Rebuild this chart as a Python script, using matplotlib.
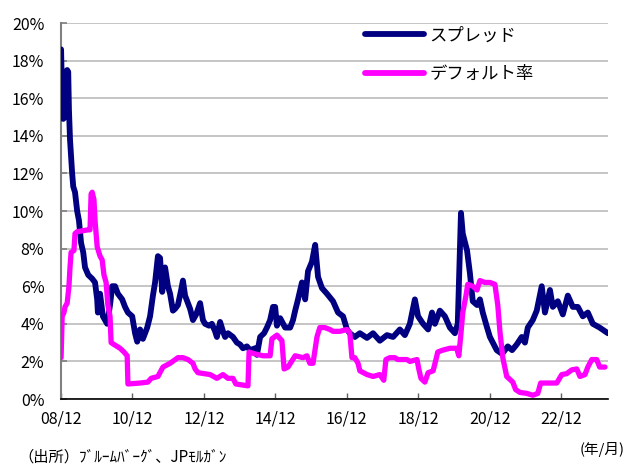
import matplotlib
matplotlib.use("Agg")
import matplotlib.pyplot as plt
from matplotlib.ticker import FixedLocator, FuncFormatter

plt.rcParams['font.family'] = ['Noto Sans CJK JP', 'DejaVu Sans']

# スプレッド (decimal year, %)
spread_t = [2008.92, 2008.95, 2008.98, 2009.03, 2009.06, 2009.09, 2009.12, 2009.14, 2009.17, 2009.23,
            2009.26, 2009.31, 2009.37, 2009.42, 2009.48, 2009.54, 2009.59, 2009.68, 2009.79, 2009.87,
            2009.93, 2009.95, 2010.01, 2010.09, 2010.21, 2010.29, 2010.35, 2010.43, 2010.51, 2010.63,
            2010.71, 2010.79, 2010.91, 2010.99, 2011.05, 2011.13, 2011.21, 2011.33, 2011.41, 2011.49,
            2011.55, 2011.63, 2011.69, 2011.75, 2011.83, 2011.91, 2011.97, 2012.05, 2012.11, 2012.19,
            2012.28, 2012.33, 2012.39, 2012.47, 2012.53, 2012.61, 2012.70, 2012.81, 2012.89, 2012.95,
            2013.06, 2013.14, 2013.23, 2013.28, 2013.37, 2013.45, 2013.51, 2013.59, 2013.73, 2013.84,
            2013.93, 2014.01, 2014.12, 2014.21, 2014.35, 2014.40, 2014.49, 2014.60, 2014.68, 2014.77,
            2014.85, 2014.91, 2014.96, 2015.05, 2015.19, 2015.33, 2015.41, 2015.47, 2015.55, 2015.66,
            2015.75, 2015.83, 2015.94, 2016.03, 2016.11, 2016.22, 2016.36, 2016.53, 2016.67, 2016.81,
            2016.92, 2017.00, 2017.14, 2017.28, 2017.48, 2017.65, 2017.84, 2018.04, 2018.21, 2018.40,
            2018.54, 2018.68, 2018.82, 2018.91, 2019.05, 2019.19, 2019.30, 2019.38, 2019.52, 2019.66,
            2019.80, 2019.94, 2020.02, 2020.11, 2020.16, 2020.28, 2020.36, 2020.44, 2020.56, 2020.64,
            2020.72, 2020.84, 2020.92, 2021.00, 2021.11, 2021.26, 2021.34, 2021.42, 2021.54, 2021.67,
            2021.81, 2021.90, 2021.98, 2022.12, 2022.23, 2022.37, 2022.46, 2022.60, 2022.68, 2022.82,
            2022.96, 2023.10, 2023.24, 2023.38, 2023.52, 2023.66, 2023.80, 2023.99, 2024.14, 2024.22]
spread_v = [18.6, 15.9, 14.9, 15.0, 16.0, 17.5, 17.4, 15.4, 13.8, 12.0,
            11.3, 11.0, 10.0, 9.5, 8.3, 7.8, 7.0, 6.6, 6.4, 6.2,
            5.3, 4.6, 5.6, 4.4, 4.0, 5.0, 6.0, 6.0, 5.6, 5.3,
            4.9, 4.6, 4.4, 3.5, 3.05, 3.7, 3.2, 3.8, 4.4, 5.5,
            6.2, 7.6, 7.5, 5.7, 7.0, 6.0, 5.6, 4.7, 4.8, 5.0,
            5.8, 6.3, 5.5, 5.1, 4.8, 4.2, 4.5, 5.1, 4.2, 4.0,
            3.9, 4.0, 3.6, 3.3, 4.1, 3.6, 3.3, 3.5, 3.3, 3.0,
            2.9, 2.7, 2.8, 2.6, 2.7, 2.35, 3.3, 3.5, 3.8, 4.2,
            4.9, 4.9, 3.9, 4.3, 3.8, 3.8, 4.2, 4.7, 5.3, 6.2,
            5.3, 6.8, 7.3, 8.2, 6.5, 5.9, 5.6, 5.2, 4.6, 4.4,
            3.7, 3.5, 3.3, 3.5, 3.25, 3.5, 3.1, 3.4, 3.3, 3.7,
            3.4, 4.0, 5.3, 4.4, 4.0, 3.7, 4.6, 4.0, 4.7, 4.4,
            3.8, 3.5, 4.0, 9.9, 8.8, 7.9, 6.7, 5.2, 5.0, 5.3,
            4.6, 3.8, 3.3, 3.0, 2.6, 2.4, 2.6, 2.8, 2.6, 2.9,
            3.3, 3.0, 3.8, 4.2, 4.7, 6.0, 4.6, 5.8, 4.9, 5.2,
            4.5, 5.5, 4.9, 4.9, 4.4, 4.6, 4.0, 3.8, 3.6, 3.5]

# デフォルト率 (decimal year, %)
default_t = [2008.92, 2008.95, 2009.00, 2009.03, 2009.09, 2009.14, 2009.17, 2009.20, 2009.28, 2009.31,
             2009.37, 2009.68, 2009.73, 2009.76, 2009.79, 2009.84, 2009.87, 2009.93, 2010.01, 2010.07,
             2010.12, 2010.18, 2010.23, 2010.29, 2010.32, 2010.40, 2010.57, 2010.68, 2010.77, 2010.79,
             2011.13, 2011.35, 2011.44, 2011.63, 2011.77, 2011.97, 2012.19, 2012.33, 2012.47, 2012.61,
             2012.67, 2012.75, 2013.09, 2013.28, 2013.45, 2013.59, 2013.73, 2013.81, 2014.15, 2014.18,
             2014.35, 2014.57, 2014.77, 2014.82, 2014.96, 2015.10, 2015.16, 2015.27, 2015.47, 2015.69,
             2015.80, 2015.88, 2015.97, 2016.08, 2016.16, 2016.30, 2016.44, 2016.53, 2016.72, 2016.92,
             2017.00, 2017.06, 2017.14, 2017.23, 2017.28, 2017.48, 2017.65, 2017.84, 2017.95, 2018.01,
             2018.12, 2018.26, 2018.34, 2018.60, 2018.68, 2018.88, 2018.93, 2018.99, 2019.10, 2019.19,
             2019.33, 2019.41, 2019.46, 2019.60, 2019.80, 2019.99, 2020.05, 2020.11, 2020.16, 2020.25,
             2020.30, 2020.44, 2020.56, 2020.64, 2020.78, 2020.92, 2021.06, 2021.14, 2021.20, 2021.28,
             2021.39, 2021.56, 2021.64, 2021.76, 2021.95, 2022.12, 2022.26, 2022.34, 2022.54, 2022.79,
             2022.93, 2023.07, 2023.21, 2023.35, 2023.44, 2023.58, 2023.66, 2023.77, 2023.91, 2023.99,
             2024.14]
default_v = [2.2, 4.4, 4.6, 4.9, 5.1, 6.0, 7.0, 7.8, 7.9, 8.8,
             8.9, 9.0, 9.0, 10.9, 11.0, 10.6, 9.5, 8.1, 7.6, 7.4,
             6.6, 6.2, 5.0, 4.4, 3.0, 2.9, 2.7, 2.5, 2.3, 0.8,
             0.85, 0.9, 1.1, 1.2, 1.7, 1.9, 2.2, 2.2, 2.1, 1.9,
             1.6, 1.4, 1.3, 1.1, 1.3, 1.1, 1.1, 0.8, 0.7, 2.5,
             2.4, 2.3, 2.3, 3.2, 3.4, 3.1, 1.6, 1.7, 2.3, 2.2,
             2.3, 1.9, 1.9, 3.3, 3.8, 3.8, 3.7, 3.6, 3.6, 3.7,
             3.5, 2.2, 2.2, 1.9, 1.5, 1.3, 1.2, 1.3, 1.0, 2.1,
             2.2, 2.2, 2.1, 2.1, 2.0, 2.1, 1.6, 1.1, 0.9, 1.4,
             1.5, 2.1, 2.5, 2.6, 2.7, 2.7, 2.3, 3.5, 4.6, 5.5,
             6.1, 6.0, 5.8, 6.3, 6.2, 6.2, 6.1, 5.0, 3.6, 2.2,
             1.2, 0.9, 0.5, 0.35, 0.3, 0.2, 0.3, 0.85, 0.85, 0.85,
             1.3, 1.35, 1.55, 1.6, 1.2, 1.3, 1.7, 2.1, 2.1, 1.7,
             1.7]

x_ticks = [2008.917, 2010.917, 2012.917, 2014.917, 2016.917, 2018.917, 2020.917, 2022.917]
x_labels = ['08/12', '10/12', '12/12', '14/12', '16/12', '18/12', '20/12', '22/12']
y_ticks = [0, 2, 4, 6, 8, 10, 12, 14, 16, 18, 20]

fig = plt.figure(figsize=(6.26, 4.65), dpi=100)
ax = fig.add_axes([0.0974, 0.1419, 0.8736, 0.8086])

ax.plot(spread_t, spread_v, color='#000080', lw=4.2, label='スプレッド',
        solid_joinstyle='round', solid_capstyle='round', zorder=3)
ax.plot(default_t, default_v, color='#FF00FF', lw=3.8, label='デフォルト率',
        solid_joinstyle='round', solid_capstyle='round', zorder=4)

ax.set_xlim(2008.917, 2024.22)
ax.set_ylim(0, 20)
ax.yaxis.set_major_locator(FixedLocator(y_ticks))
ax.yaxis.set_major_formatter(FuncFormatter(lambda v, p: f'{int(round(v))}%'))
ax.set_xticks(x_ticks)
ax.set_xticklabels(x_labels)

ax.grid(axis='y', color='#C0C0C0', lw=1.3, zorder=0)
ax.set_axisbelow(True)
for s in ['top', 'right']:
    ax.spines[s].set_visible(False)
ax.spines['left'].set_color('#808080')
ax.spines['left'].set_linewidth(1.5)
ax.spines['bottom'].set_color('black')
ax.spines['bottom'].set_linewidth(1.2)

ax.tick_params(axis='y', direction='in', length=4, width=1.2, color='#808080',
               labelsize=11.5, pad=12)
ax.tick_params(axis='x', direction='in', length=4, width=1.0, color='#606060',
               labelsize=11.5, pad=8)

leg = ax.legend(loc='upper left', bbox_to_anchor=(0.55, 1.0), frameon=False,
                fontsize=12.5, handlelength=3.4, labelspacing=1.2, handletextpad=0.3,
                borderaxespad=0.0, borderpad=0.2)
for line in leg.get_lines():
    line.set_linewidth(4.2)

fig.text(18 / 626, 1 - 457 / 465, '（出所）ﾌﾞﾙｰﾑﾊﾞｰｸﾞ、JPﾓﾙｶﾞﾝ', fontsize=11, va='center', ha='left')
fig.text(580 / 626, 1 - 449 / 465, '(年/月)', fontsize=10.5, va='center', ha='left')

fig.savefig('out.png', dpi=100)
